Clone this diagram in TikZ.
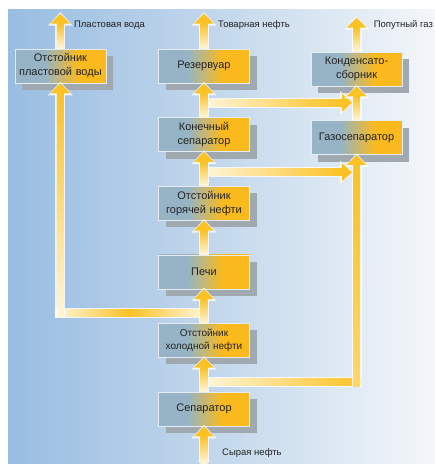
\documentclass[tikz,border=0pt]{standalone}
\usepackage{fontspec}
\setmainfont{Liberation Sans}
\usetikzlibrary{calc,positioning,shadows}

\definecolor{bgL}{RGB}{152,189,226}
\definecolor{bgM}{RGB}{196,216,236}
\definecolor{bgR}{RGB}{244,247,250}
\definecolor{boxL}{RGB}{150,180,198}
\definecolor{boxR}{RGB}{250,186,30}
\definecolor{shadowc}{RGB}{160,168,176}
\definecolor{flowc}{RGB}{252,194,36}
\definecolor{flowpale}{RGB}{255,246,218}
\definecolor{txt}{RGB}{35,35,35}

\pgfdeclarehorizontalshading{boxshade}{100bp}{color(0bp)=(boxL); color(41bp)=(boxL); color(60bp)=(boxR); color(100bp)=(boxR)}

\tikzset{
    unit/.style={
        rectangle,
        shade, shading=boxshade,
        draw=white!75!boxL, line width=0.6pt,
        drop shadow={shadow xshift=7pt, shadow yshift=-7pt, fill=shadowc, opacity=1},
        text=txt,
        text width=85pt, inner xsep=3pt, inner ysep=2pt,
        minimum height=34pt,
        align=center,
        font=\fontsize{11}{14}\selectfont
    },
    small/.style={font=\fontsize{10}{12.5}\selectfont},
    outlabel/.style={inner sep=0pt, text=txt, font=\fontsize{9.5}{11}\selectfont},
    flowglow/.style={white, opacity=.8}
}

% upward flow: tail, tip
\newcommand{\flowup}[3][bottom color=flowpale]{%
    \fill[flowglow] ($(#2)+(-5,0)$) rectangle ($(#3)+(5,11)$);
    \fill[flowglow] ($(#3)+(-12.5,12)$) -- ($(#3)+(0,-1.5)$) -- ($(#3)+(12.5,12)$) -- cycle;
    \shade[top color=flowc,#1] ($(#2)+(-3.5,0)$) rectangle ($(#3)+(3.5,10)$);
    \fill[flowc] ($(#3)+(-10,10)$) -- (#3) -- ($(#3)+(10,10)$) -- cycle;
}
% flow to the right: tail, tip
\newcommand{\flowright}[3][left color=flowpale]{%
    \fill[flowglow] ($(#2)+(0,-5)$) rectangle ($(#3)+(-11,5)$);
    \fill[flowglow] ($(#3)+(-12,-11.5)$) -- ($(#3)+(1.5,0)$) -- ($(#3)+(-12,11.5)$) -- cycle;
    \shade[right color=flowc,#1] ($(#2)+(0,-3.5)$) rectangle ($(#3)+(-10,3.5)$);
    \fill[flowc] ($(#3)+(-10,-9)$) -- (#3) -- ($(#3)+(-10,9)$) -- cycle;
}
% horizontal pipe without head
\newcommand{\flowh}[3]{%
    \fill[flowglow] ($(#1)+(0,-5)$) rectangle ($(#2)+(0,5)$);
    \shade[#3] ($(#1)+(0,-3.5)$) rectangle ($(#2)+(0,3.5)$);
}

\begin{document}
\begin{tikzpicture}[x=1pt, y=-1pt, node distance=34pt and 61pt]
    \useasboundingbox (0,0) rectangle (435,464);
    \shade[left color=bgL, right color=bgR, middle color=bgM] (8,9) rectangle (435,463);

    \node[unit] (sep) at (204,409) {Сепаратор};
    \node[unit, small, above=of sep] (cold) {Отстойник\\холодной нефти};
    \node[unit, above=of cold] (oven) {Печи};
    \node[unit, above=of oven] (hot) {Отстойник\\горячей нефти};
    \node[unit, above=of hot] (kon) {Конечный\\сепаратор};
    \node[unit, above=of kon] (res) {Резервуар};
    \node[unit, left=52pt of res] (vod) {Отстойник\\пластовой воды};
    \node[unit, right=of res, yshift=-3pt] (kond) {Конденсато-\\сборник};
    \node[unit, right=of kon, yshift=-3pt] (gas) {Газосепаратор};

    \coordinate[below=37pt of sep] (oilin);
    \coordinate[above=35pt of vod] (vodout);
    \coordinate[above=35pt of res] (resout);
    \coordinate[above=34pt of kond] (kondout);

    \coordinate (b1) at ($(kon.north)!0.43!(res.south)$);
    \coordinate (e1) at ($(b1 -| kond.south)+(-4.5,0)$);
    \coordinate (b2) at ($(hot.north)!0.4!(kon.south)$);
    \coordinate (e2) at ($(b2 -| gas.south)+(-4.5,0)$);
    \coordinate (b3) at ($(cold.north)!0.3!(oven.south)$);
    \coordinate (c3) at (b3 -| vod.south);
    \coordinate (c3h) at ($(c3)+(-5,0)$);
    \coordinate (c3v) at ($(c3)+(0,5)$);
    \coordinate (b4) at ($(sep.north)!0.3!(cold.south)$);
    \coordinate (c4) at (b4 -| gas.south);
    \coordinate (c4h) at ($(c4)+(5,0)$);
    \coordinate (c4v) at ($(c4)+(0,5)$);

    \flowh{b3}{c3h}{left color=flowpale, right color=flowpale, middle color=flowc}
    \flowup{c3v}{vod.south}
    \flowh{b4}{c4h}{left color=flowpale, right color=flowc}
    \flowup[bottom color=flowc!60!flowpale]{c4v}{gas.south}
    \flowright{b1}{e1}
    \flowright{b2}{e2}

    \flowup{oilin}{sep.south}
    \flowup{sep.north}{cold.south}
    \flowup{cold.north}{oven.south}
    \flowup{oven.north}{hot.south}
    \flowup{hot.north}{kon.south}
    \flowup{kon.north}{res.south}
    \flowup{gas.north}{kond.south}
    \flowup{vod.north}{vodout}
    \flowup{res.north}{resout}
    \flowup{kond.north}{kondout}

    \node[outlabel, right=13.5pt of vodout, yshift=-11pt] (vodlabel) {Пластовая вода};
    \node[outlabel, right=14pt of resout, yshift=-11pt] (reslabel) {Товарная нефть};
    \node[outlabel, right=17pt of kondout, yshift=-7pt] (kondlabel) {Попутный газ};
    \node[outlabel, right=18pt of oilin, yshift=10pt] (oillabel) {Сырая нефть};
\end{tikzpicture}
\end{document}
